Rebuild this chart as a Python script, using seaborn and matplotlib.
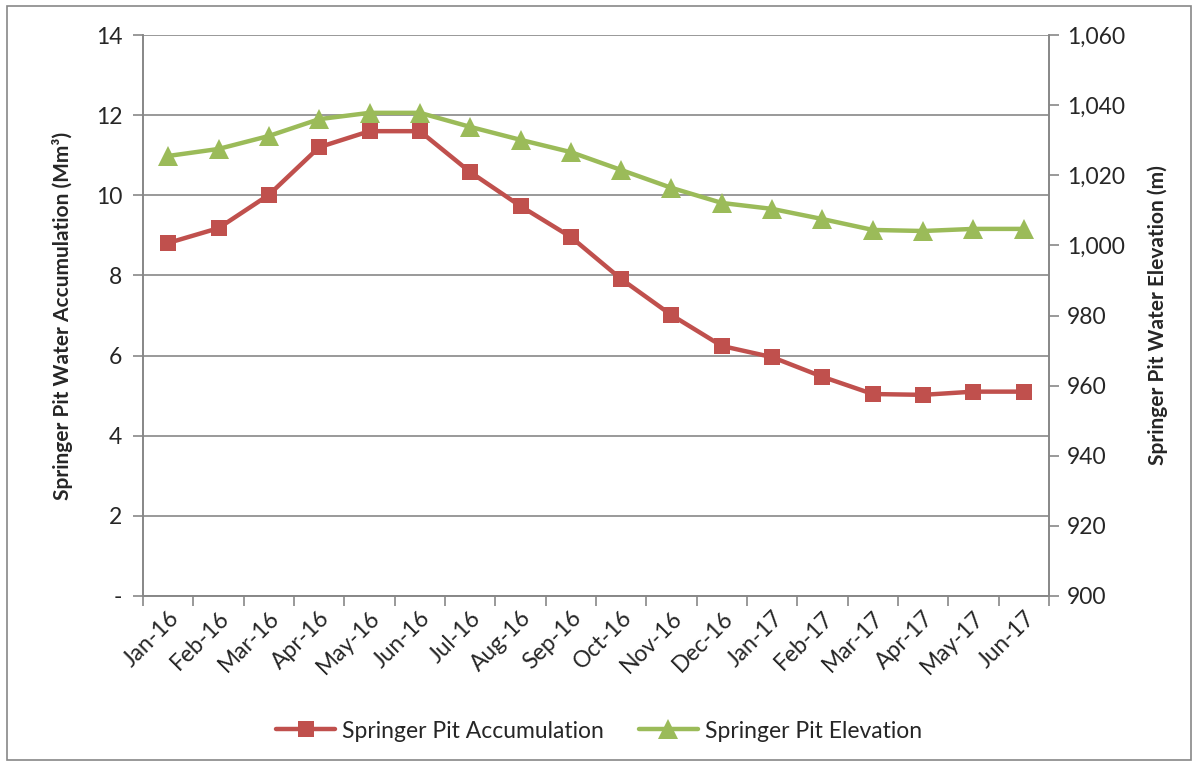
import numpy as np
import pandas as pd
import matplotlib
matplotlib.use('Agg')
import matplotlib.pyplot as plt
import seaborn as sns
from matplotlib.patches import Rectangle
from matplotlib.ticker import FuncFormatter, FixedLocator

# Data
months = ['Jan-16', 'Feb-16', 'Mar-16', 'Apr-16', 'May-16', 'Jun-16', 'Jul-16', 'Aug-16', 'Sep-16',
          'Oct-16', 'Nov-16', 'Dec-16', 'Jan-17', 'Feb-17', 'Mar-17', 'Apr-17', 'May-17', 'Jun-17']
accumulation = [8.81, 9.18, 10.01, 11.2, 11.6, 11.6, 10.58, 9.73, 8.96,
                7.91, 7.01, 6.24, 5.96, 5.47, 5.04, 5.02, 5.1, 5.1]
elevation = [1025.5, 1027.5, 1031.2, 1036.0, 1037.8, 1037.8, 1033.8, 1030.1, 1026.6,
             1021.5, 1016.4, 1012.1, 1010.4, 1007.5, 1004.4, 1004.1, 1004.7, 1004.7]

df = pd.DataFrame({'pos': np.arange(len(months)), 'month': months,
                   'accumulation': accumulation, 'elevation': elevation})

sns.set_theme(style='white')
plt.rcParams['font.family'] = ['Lato', 'DejaVu Sans']

red = '#C0504D'
green = '#9BBB59'
grey = '#878787'

fig = plt.figure(figsize=(11.98, 7.66), dpi=100)
ax = fig.add_axes([143 / 1198, 1 - 596 / 766, (1049 - 143) / 1198, (596 - 35) / 766])
ax2 = ax.twinx()

sns.lineplot(data=df, x='pos', y='accumulation', ax=ax, color=red, linewidth=3.2,
             marker='s', markersize=12, markeredgewidth=0, label='Springer Pit Accumulation',
             legend=False)
sns.lineplot(data=df, x='pos', y='elevation', ax=ax2, color=green, linewidth=3.2,
             marker='^', markersize=14, markeredgewidth=0, label='Springer Pit Elevation',
             legend=False)

ax.set_xlim(-0.5, len(months) - 0.5)
ax.set_ylim(0, 14)
ax2.set_ylim(900, 1060)

ax.set_yticks(np.arange(0, 15, 2))
ax.yaxis.set_major_formatter(FuncFormatter(lambda v, p: '-' if v == 0 else f'{v:.0f}'))
ax2.set_yticks(np.arange(900, 1061, 20))
ax2.yaxis.set_major_formatter(FuncFormatter(lambda v, p: f'{v:,.0f}'))

# category boundaries as tick marks, labels centered on categories
ax.xaxis.set_major_locator(FixedLocator(np.arange(-0.5, len(months), 1.0)))
ax.xaxis.set_major_formatter(FuncFormatter(lambda v, p: ''))
ax.xaxis.set_minor_locator(FixedLocator(df['pos']))
ax.set_xticklabels(months, minor=True, rotation=45, ha='right', rotation_mode='anchor')
ax.tick_params(axis='x', which='major', length=7, width=1.2, color=grey, direction='out', bottom=True)
ax.tick_params(axis='x', which='minor', length=0, labelsize=16.5, pad=8)
ax.tick_params(axis='y', length=7, width=1.2, color=grey, direction='out', left=True, labelsize=16.5, pad=8)
ax2.tick_params(axis='y', length=7, width=1.2, color=grey, direction='out', right=True, labelsize=16.5, pad=6)

ax.grid(True, axis='y', color=grey, linewidth=1.2)
ax.grid(False, axis='x')
for a in (ax, ax2):
    a.spines['top'].set_visible(False)
    for s in ('left', 'bottom', 'right'):
        a.spines[s].set_color(grey)
        a.spines[s].set_linewidth(1.2)
ax.set_xlabel('')

ax.set_ylabel('Springer Pit Water Accumulation (Mm³)', fontsize=15, fontweight='bold', labelpad=16)
ax2.set_ylabel('Springer Pit Water Elevation (m)', fontsize=15, fontweight='bold', labelpad=16,
               rotation=90)

h1, l1 = ax.get_legend_handles_labels()
h2, l2 = ax2.get_legend_handles_labels()
fig.legend(h1 + h2, l1 + l2, loc='center', bbox_to_anchor=(0.5, 1 - 731 / 766), ncol=2,
           frameon=False, fontsize=16.5, handlelength=2.6, columnspacing=1.5, handletextpad=0.3)

fig.patches.append(Rectangle((7 / 1198, 6 / 766), 1184 / 1198, 754 / 766, transform=fig.transFigure,
                             fill=False, edgecolor=grey, linewidth=1.2))

fig.savefig('out.png', dpi=100)
